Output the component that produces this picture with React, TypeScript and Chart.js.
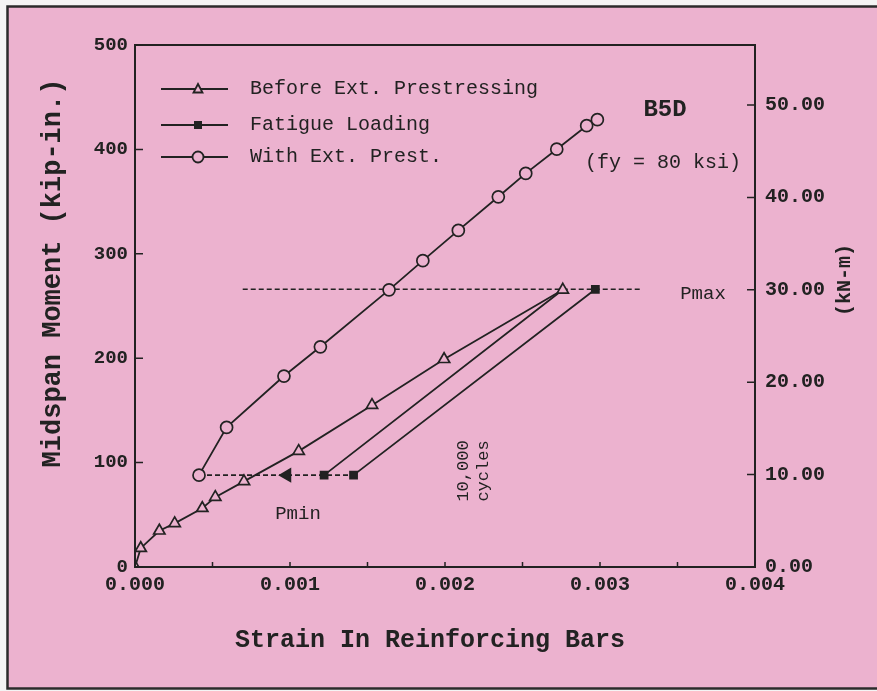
import React, { useEffect, useRef } from 'react';
import { Chart, registerables } from 'chart.js';

Chart.register(...registerables);

// ---- data (strain, midspan moment in kip-in.) ----
const strainBefore = [0, 0.000037, 0.000157, 0.000256, 0.000434, 0.000518, 0.000703, 0.001056, 0.001529, 0.001994, 0.00276];
const momentBefore = [0, 18, 34.7, 41.8, 56.3, 66.9, 82, 111, 155, 199, 265.5];

const strainFatigue = [0.00276, 0.00122, 0.00131, 0.00141, 0.00297];
const momentFatigue: (number | null)[] = [265.5, 88, null, 88, 266];
const fatigueMarker = [0, 5, 0, 5, 5];

const strainPrest = [0.000413, 0.000591, 0.000961, 0.001196, 0.001639, 0.001857, 0.002086, 0.002344, 0.002521, 0.002721, 0.002914, 0.002983];
const momentPrest = [88, 133.7, 182.9, 210.9, 265.5, 293.4, 322.4, 354.6, 377, 400.2, 422.7, 428.5];

const pmaxStrain = [0.000695, 0.003275];
const pmaxMoment = [266, 266];
const pminStrain = [0.000413, 0.00141];
const pminMoment = [88, 88];
const arrowStrain = [0.00098];
const arrowMoment = [88];

const xMin = 0, xMax = 0.004, xStep = 0.0005;
const yMin = 0, yMax = 500, yStep = 100;
const kipInToKNm = 0.112985;
const rightStep = 10;

const legendLabels = ['Before Ext. Prestressing', 'Fatigue Loading', 'With Ext. Prest.'];

const PINK = '#ecb2cf';
const INK = '#222222';
const FONT = "'Liberation Mono', 'Courier New', monospace";

const pts = (xs: number[], ys: (number | null)[]) => xs.map((x, i) => ({ x, y: ys[i] }));

const framePlugin = {
  id: 'frame',
  beforeDraw(chart: any) {
    const { ctx, width, height } = chart;
    ctx.save();
    ctx.fillStyle = '#f4f4f4';
    ctx.fillRect(0, 0, width, height);
    ctx.fillStyle = PINK;
    ctx.fillRect(8, 7, width - 8, 681);
    ctx.strokeStyle = '#2b2b2b';
    ctx.lineWidth = 2.5;
    ctx.strokeRect(7.5, 6.5, width + 10, 682);
    ctx.restore();
  },
};

const decorPlugin = {
  id: 'decor',
  afterDraw(chart: any) {
    const { ctx, chartArea: a } = chart;
    const sx = chart.scales.x, sy = chart.scales.y, sr = chart.scales.y2;
    ctx.save();
    ctx.strokeStyle = INK;
    ctx.lineWidth = 2;
    ctx.strokeRect(a.left, a.top, a.right - a.left, a.bottom - a.top);
    ctx.lineWidth = 1.5;
    ctx.beginPath();
    sx.ticks.forEach((t: any) => {
      const p = sx.getPixelForValue(t.value);
      ctx.moveTo(p, a.bottom); ctx.lineTo(p, a.bottom - 5);
    });
    sy.ticks.forEach((t: any) => {
      const p = sy.getPixelForValue(t.value);
      ctx.moveTo(a.left, p); ctx.lineTo(a.left + 8, p);
    });
    sr.ticks.forEach((t: any) => {
      const p = sr.getPixelForValue(t.value);
      ctx.moveTo(a.right + 1, p); ctx.lineTo(a.right - 8, p);
    });
    ctx.stroke();

    // legend
    const rows = [89, 125, 157];
    const styles = ['triangle', 'rect', 'circle'];
    rows.forEach((ry, i) => {
      ctx.strokeStyle = INK;
      ctx.lineWidth = 1.8;
      ctx.beginPath();
      ctx.moveTo(161, ry); ctx.lineTo(228, ry);
      ctx.stroke();
      const mx = 198;
      ctx.beginPath();
      if (styles[i] === 'triangle') {
        ctx.moveTo(mx, ry - 5); ctx.lineTo(mx + 4.5, ry + 3.5); ctx.lineTo(mx - 4.5, ry + 3.5); ctx.closePath();
        ctx.fillStyle = PINK; ctx.fill(); ctx.stroke();
      } else if (styles[i] === 'rect') {
        ctx.rect(mx - 4, ry - 4, 8, 8);
        ctx.fillStyle = INK; ctx.fill();
      } else {
        ctx.arc(mx, ry, 5.5, 0, Math.PI * 2);
        ctx.fillStyle = PINK; ctx.fill(); ctx.stroke();
      }
      ctx.fillStyle = INK;
      ctx.font = `20px ${FONT}`;
      ctx.textAlign = 'left';
      ctx.textBaseline = 'middle';
      ctx.fillText(legendLabels[i], 250, ry);
    });

    // annotations
    ctx.fillStyle = INK;
    ctx.textAlign = 'center';
    ctx.textBaseline = 'middle';
    ctx.font = `bold 24px ${FONT}`;
    ctx.fillText('B5D', 665, 110);
    ctx.font = `20px ${FONT}`;
    ctx.fillText('(fy = 80 ksi)', 663, 163);
    ctx.font = `19px ${FONT}`;
    ctx.fillText('Pmax', 703, 294);
    ctx.fillText('Pmin', 298, 514);

    ctx.save();
    ctx.translate(473, 471);
    ctx.rotate(-Math.PI / 2);
    ctx.font = `17px ${FONT}`;
    ctx.fillText('10,000', 0, -10);
    ctx.fillText('cycles', 0, 10);
    ctx.restore();

    // axis titles
    ctx.font = `bold 25px ${FONT}`;
    ctx.fillText('Strain In Reinforcing Bars', 430, 641);
    ctx.save();
    ctx.translate(53, 273);
    ctx.rotate(-Math.PI / 2);
    ctx.font = `bold 27px ${FONT}`;
    ctx.fillText('Midspan Moment (kip-in.)', 0, 0);
    ctx.restore();
    ctx.save();
    ctx.translate(845, 280);
    ctx.rotate(-Math.PI / 2);
    ctx.font = `bold 20px ${FONT}`;
    ctx.fillText('(kN-m)', 0, 0);
    ctx.restore();
    ctx.restore();
  },
};

export default function App() {
  const ref = useRef<HTMLCanvasElement>(null);
  useEffect(() => {
    if (!ref.current) return;
    Chart.defaults.font.family = FONT;
    const lineDs = {
      showLine: true,
      borderColor: INK,
      borderWidth: 1.8,
      pointBorderColor: INK,
      pointBorderWidth: 1.7,
      pointBackgroundColor: PINK,
      spanGaps: false,
    };
    const chart = new Chart(ref.current, {
      type: 'scatter',
      data: {
        datasets: [
          { ...lineDs, label: 'Pmax', data: pts(pmaxStrain, pmaxMoment), borderDash: [5, 3], borderWidth: 1.6, pointRadius: 0, order: 5 },
          { ...lineDs, label: 'Pmin', data: pts(pminStrain, pminMoment), borderDash: [5, 3], borderWidth: 1.6, pointRadius: 0, order: 5 },
          { ...lineDs, label: legendLabels[1], data: pts(strainFatigue, momentFatigue), pointStyle: 'rect', pointRadius: fatigueMarker, pointBackgroundColor: INK, order: 3 },
          { ...lineDs, label: legendLabels[0], data: pts(strainBefore, momentBefore), pointStyle: 'triangle', pointRadius: 6.5, order: 2 },
          { ...lineDs, label: legendLabels[2], data: pts(strainPrest, momentPrest), pointStyle: 'circle', pointRadius: 6, order: 1 },
          { ...lineDs, label: 'arrow', data: pts(arrowStrain, arrowMoment), showLine: false, pointStyle: 'triangle', pointRotation: 270, pointRadius: 7, pointBackgroundColor: INK, order: 0 },
        ],
      },
      options: {
        animation: false,
        responsive: false,
        devicePixelRatio: 1,
        layout: { padding: { top: 45, left: 0, right: 0, bottom: 0 } },
        plugins: { legend: { display: false }, tooltip: { enabled: false } },
        scales: {
          x: {
            type: 'linear', min: xMin, max: xMax,
            grid: { display: false, drawTicks: false },
            border: { display: false },
            ticks: {
              stepSize: xStep, padding: 6, color: INK, maxRotation: 0, autoSkip: false,
              font: { family: FONT, size: 20, weight: 'bold' },
              callback: (v: any) => {
                const k = Math.round(Number(v) * 10000);
                return k % 10 === 0 ? (k / 10000).toFixed(3) : '';
              },
            },
            afterFit: (s: any) => { s.height = 124; },
          },
          y: {
            type: 'linear', position: 'left', min: yMin, max: yMax,
            grid: { display: false, drawTicks: false },
            border: { display: false },
            ticks: { stepSize: yStep, padding: 7, color: INK, font: { family: FONT, size: 19, weight: 'bold' } },
            afterFit: (s: any) => { s.width = 135; },
          },
          y2: {
            type: 'linear', position: 'right', min: yMin * kipInToKNm, max: yMax * kipInToKNm,
            grid: { display: false, drawTicks: false },
            border: { display: false },
            ticks: {
              stepSize: rightStep, padding: 10, color: INK,
              font: { family: FONT, size: 20, weight: 'bold' },
              callback: (v: any) => Number(v).toFixed(2),
            },
            afterBuildTicks: (s: any) => {
              s.ticks = s.ticks.filter((t: any) => Math.abs(t.value / rightStep - Math.round(t.value / rightStep)) < 1e-6);
            },
            afterFit: (s: any) => { s.width = 122; },
          },
        },
      } as any,
      plugins: [framePlugin, decorPlugin],
    });
    return () => chart.destroy();
  }, []);
  return (
    <div style={{ position: 'fixed', left: 0, top: 0, width: 877, height: 691 }}>
      <canvas ref={ref} width={877} height={691} style={{ width: 877, height: 691, display: 'block' }} />
    </div>
  );
}
